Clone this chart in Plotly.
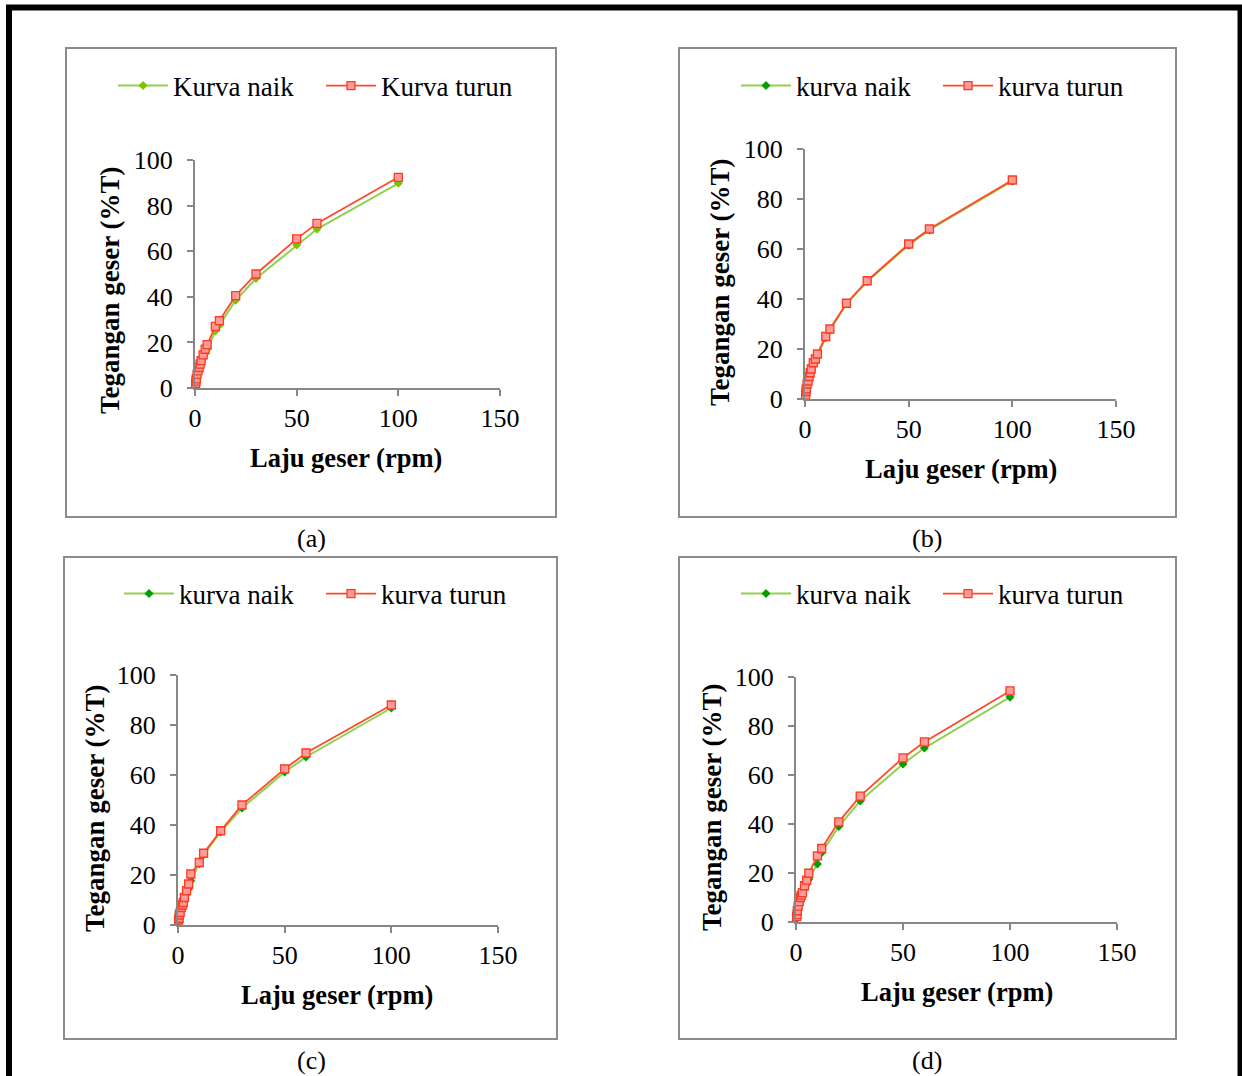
import plotly.graph_objects as go

W, H = 1242, 1076

# ---------------- data ----------------
speeds = [0.3, 0.5, 0.6, 1, 1.5, 2, 2.5, 3, 4, 5, 6, 10, 12, 20, 30, 50, 60, 100]

a_naik = [1.5, 2.5, 3, 5, 6.5, 8, 9.5, 11, 13, 15, 17, 25, 27.5, 38.5, 48, 62.7, 69.7, 89.8]
a_turun = [2, 3, 4, 6, 7.5, 9, 10.5, 12, 14.5, 17, 19, 27, 29.5, 40.5, 50, 65.4, 72.2, 92.4]

b_naik = [1.2, 2.5, 3.5, 5.5, 7, 8.5, 10, 11.5, 14, 15.5, 17.5, 24.5, 27.5, 38, 47, 61.5, 67.6, 87.1]
b_turun = [1.5, 3, 4, 6, 7.2, 9, 10.5, 12, 14.5, 16, 18, 25, 28, 38.3, 47.3, 62, 68, 87.6]

c_naik = [1.5, 2.5, 3.5, 4.5, 6, 7.5, 8.5, 10, 12.5, 14.5, 17.7, 24.5, 28, 37.2, 46.8, 61.2, 67.2, 86.8]
c_turun = [2, 2.7, 4, 5, 7, 8, 9, 11, 13.7, 16.4, 20.4, 25, 28.7, 37.7, 48, 62.4, 68.8, 88]

d_naik = [1.5, 2.5, 3.5, 5.5, 7, 8.5, 9.5, 11, 13.5, 15.5, 17.5, 23.7, 28.3, 39, 49.4, 64.5, 71, 91.8]
d_turun = [2.2, 3, 4.6, 6.5, 8.3, 10, 11, 12, 14.8, 17.1, 19.9, 27, 30, 40.9, 51.4, 67, 73.5, 94.3]

legend_names = [("Kurva naik", "Kurva turun"), ("kurva naik", "kurva turun"),
                ("kurva naik", "kurva turun"), ("kurva naik", "kurva turun")]
panel_labels = ["(a)", "(b)", "(c)", "(d)"]
x_title = "Laju geser (rpm)"
y_title = "Tegangan geser (%T)"
x_ticks = [0, 50, 100, 150]
y_ticks = [0, 20, 40, 60, 80, 100]

series = [(a_naik, a_turun), (b_naik, b_turun), (c_naik, c_turun), (d_naik, d_turun)]

# ---------------- layout geometry (pixels) ----------------
def px(x):
    return x / W

def py(y):
    return 1 - y / H

plot_px = [((195, 500), (160, 388)), ((805, 1116), (149, 399)),
           ((178, 498), (675, 925)), ((796, 1117), (677, 922))]
boxes = [(66, 48, 556, 517), (679, 48, 1176, 517), (64, 557, 557, 1039), (679, 557, 1176, 1039)]
legend_pos = [(113, 86), (736, 86), (119, 594), (736, 594)]
legend_entry_w = [143, 137, 137, 137]
ytitle_pos = [(110, 290), (720, 282), (95, 808), (712, 807)]
xtitle_pos = [(346, 458), (961, 469), (337, 995), (957, 992)]
label_pos = [(311, 538), (927, 538), (311, 1060), (927, 1060)]
naik_marker_colors = ["#7CC400", "#00A000", "#00A000", "#00A000"]

FONT = "Liberation Serif, Times New Roman, serif"
AXC = "#878787"

fig = go.Figure()
layout = dict(
    width=W, height=H, autosize=False,
    margin=dict(l=0, r=0, t=0, b=0, autoexpand=False),
    paper_bgcolor="white", plot_bgcolor="white",
    font=dict(family=FONT, size=26, color="black"),
    shapes=[], annotations=[],
)

for i in range(4):
    n = "" if i == 0 else str(i + 1)
    (x0, x1), (ytop, ybot) = plot_px[i]
    naik, turun = series[i]
    leg = "legend" + n
    fig.add_trace(go.Scatter(
        x=speeds, y=naik, mode="lines+markers", name=legend_names[i][0],
        xaxis="x" + n, yaxis="y" + n, legend=leg, cliponaxis=False,
        line=dict(color="#92D050", width=2),
        marker=dict(symbol="diamond", size=7, color=naik_marker_colors[i],
                    line=dict(width=0)),
    ))
    fig.add_trace(go.Scatter(
        x=speeds, y=turun, mode="lines+markers", name=legend_names[i][1],
        xaxis="x" + n, yaxis="y" + n, legend=leg, cliponaxis=False,
        line=dict(color="#FF4A2A", width=1.8),
        marker=dict(symbol="square", size=8, color="#FF9B9B",
                    line=dict(width=1.3, color="#FF3B1F")),
    ))
    axis_common = dict(
        showgrid=False, zeroline=False, showline=True, linecolor=AXC, linewidth=2,
        ticks="outside", ticklen=6, tickwidth=2, tickcolor=AXC,
        tickfont=dict(family=FONT, size=26, color="black"),
        tickmode="array", fixedrange=True, automargin=False,
    )
    layout["xaxis" + n] = dict(axis_common, domain=[px(x0), px(x1)], range=[0, 150],
                               tickvals=x_ticks, anchor="y" + n, ticklabelstandoff=0)
    layout["yaxis" + n] = dict(axis_common, domain=[py(ybot), py(ytop)], range=[0, 100],
                               tickvals=y_ticks, anchor="x" + n, ticklabelstandoff=9)
    lx, ly = legend_pos[i]
    layout[leg] = dict(
        orientation="h", x=px(lx), y=py(ly), xanchor="left", yanchor="middle",
        itemwidth=50, bgcolor="rgba(0,0,0,0)", borderwidth=0,
        font=dict(family=FONT, size=27, color="black"),
        entrywidth=legend_entry_w[i], entrywidthmode="pixels",
    )
    bx0, by0, bx1, by1 = boxes[i]
    layout["shapes"].append(dict(type="rect", xref="paper", yref="paper",
                                 x0=px(bx0), x1=px(bx1), y0=py(by1), y1=py(by0),
                                 line=dict(color="#8C8C8C", width=2)))
    tx, ty = ytitle_pos[i]
    layout["annotations"].append(dict(text="<b>" + y_title + "</b>", textangle=-90,
                                      xref="paper", yref="paper", x=px(tx), y=py(ty),
                                      xanchor="center", yanchor="middle", showarrow=False,
                                      font=dict(family=FONT, size=27, color="black")))
    tx, ty = xtitle_pos[i]
    layout["annotations"].append(dict(text="<b>" + x_title + "</b>",
                                      xref="paper", yref="paper", x=px(tx), y=py(ty),
                                      xanchor="center", yanchor="middle", showarrow=False,
                                      font=dict(family=FONT, size=26.5, color="black")))
    tx, ty = label_pos[i]
    layout["annotations"].append(dict(text=panel_labels[i],
                                      xref="paper", yref="paper", x=px(tx), y=py(ty),
                                      xanchor="center", yanchor="middle", showarrow=False,
                                      font=dict(family=FONT, size=26, color="black")))

# outer black frame (left, top, right edges)
for (xa, ya, xb, yb) in [(9, 1076, 9, 7.5), (6, 7.5, 1242, 7.5), (1240.5, 7.5, 1240.5, 1076)]:
    layout["shapes"].append(dict(type="line", xref="paper", yref="paper",
                                 x0=px(xa), y0=py(ya), x1=px(xb), y1=py(yb),
                                 line=dict(color="black", width=6)))

fig.update_layout(**layout)
fig.write_html(
    "out.html",
    config={"displayModeBar": False},
    post_script=("document.documentElement.style.overflow='hidden';"
                 "document.body.style.margin='0';"
                 "document.body.style.overflow='hidden';"),
)
